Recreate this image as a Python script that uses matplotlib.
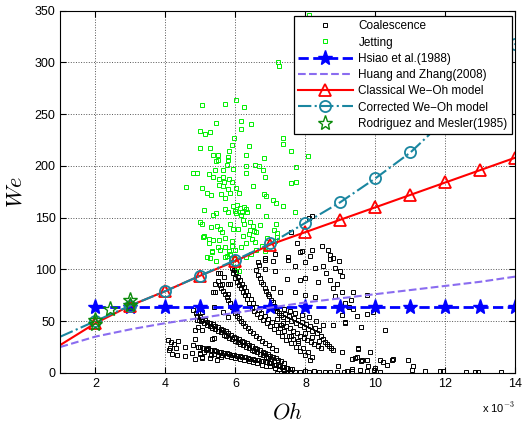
import numpy as np
import matplotlib
matplotlib.use("Agg")
import matplotlib.pyplot as plt

plt.rcParams['font.family'] = ['Liberation Sans', 'DejaVu Sans']
plt.rcParams['mathtext.fontset'] = 'cm'

# Oh values are in units of 1e-3
oh_model = [1, 2, 3, 4, 5, 6, 7, 8, 9, 10, 11, 12, 13, 14]
we_hsiao = [64, 64, 64, 64, 64, 64, 64, 64, 64, 64, 64, 64, 64, 64]
we_huang = [25, 35, 42, 48, 53, 58, 63, 68, 72, 76, 80, 84, 88, 93]
we_classic = [27, 48, 65, 79, 94, 108, 124, 136, 148, 160, 172, 184, 196, 208]
we_corrected = [35, 50, 65, 79, 94, 109, 125, 145, 165, 188, 213, 245, 280, 318]

oh_rodriguez = [2.0, 2.0, 2.42, 3.0, 3.0]
we_rodriguez = [47, 51, 62, 70, 66]

jet_pts = [
    (8.11, 346), (7.22, 300), (7.23, 297),
    (5.04, 259), (5.71, 260), (6.02, 264), (6.25, 257), (5.43, 241), (6.16, 243), (6.43, 240),
    (6.17, 236), (5.0, 234), (5.14, 231), (5.27, 233), (5.96, 227), (7.35, 227), (7.35, 221),
    (4.99, 217), (5.28, 217), (5.9, 220), (6.39, 219), (5.82, 214), (5.36, 211), (5.5, 211),
    (5.78, 209), (6.31, 211), (6.82, 208), (7.59, 214), (8.07, 210), (5.49, 206), (5.45, 205),
    (5.8, 206), (5.77, 201), (4.78, 193), (4.89, 193), (5.41, 196), (5.64, 196), (5.94, 197),
    (6.31, 200), (6.31, 193), (6.55, 201), (6.67, 200), (6.8, 196), (6.84, 189), (7.72, 199),
    (5.24, 192), (5.37, 189), (5.52, 187), (5.64, 189), (5.81, 187), (5.66, 184), (5.89, 184),
    (5.52, 182), (5.63, 181), (4.58, 180), (5.04, 179), (5.78, 178), (6.01, 179), (6.5, 181),
    (7.59, 183), (7.73, 184), (5.19, 174), (5.31, 172), (5.58, 173), (5.84, 174), (5.7, 169),
    (6.11, 174), (6.81, 173), (6.88, 171), (7.08, 167), (7.17, 164), (7.36, 161), (5.09, 157),
    (5.71, 158), (5.92, 161), (6.05, 162), (6.14, 159), (6.23, 160), (6.0, 156), (6.2, 155),
    (6.3, 158), (6.64, 161), (5.37, 153), (5.45, 154), (5.78, 155), (6.01, 154), (6.15, 153),
    (6.32, 155), (6.88, 152), (7.69, 155), (4.99, 146), (5.04, 144), (5.3, 141), (5.48, 142),
    (5.56, 139), (5.62, 136), (5.84, 144), (5.93, 139), (6.06, 139), (6.21, 148), (6.25, 144),
    (6.41, 146), (6.49, 142), (6.52, 137), (6.6, 136), (7.15, 144), (7.1, 138), (7.2, 135),
    (5.09, 132), (5.23, 129), (5.36, 128), (5.53, 128), (5.69, 130), (5.9, 127), (6.21, 132),
    (6.38, 134), (6.47, 129), (6.55, 126), (5.33, 118), (5.57, 119), (5.7, 122), (5.82, 118),
    (5.91, 123), (6.0, 119), (6.16, 122), (6.3, 125), (5.75, 113), (5.85, 115), (5.95, 111),
    (5.08, 131), (5.32, 117), (5.5, 122), (5.7, 112), (5.88, 107), (6.0, 110), (6.03, 102),
    (6.1, 98), (5.2, 112), (5.45, 108), (6.42, 138), (6.7, 143), (6.75, 123), (7.13, 127),
    (6.85, 118), (6.6, 119), (6.45, 115), (6.3, 112), (6.9, 130), (7.2, 131), (5.27, 111),
    (5.25, 125),
]

coal_pts = [
    # sparse upper / right
    (8.11, 150), (8.18, 152), (7.6, 136), (7.75, 125), (8.18, 119), (7.89, 118), (7.51, 112),
    (8.13, 113), (8.65, 119), (8.7, 114), (8.95, 108), (8.7, 110), (6.84, 111), (7.08, 108),
    (7.84, 117), (8.46, 123), (8.79, 111), (7.51, 109), (7.13, 115), (6.84, 109), (6.64, 107),
    (6.68, 104), (6.84, 100), (7.13, 98), (7.7, 103), (7.99, 107), (8.27, 101), (8.5, 103),
    (8.6, 96), (8.84, 101), (8.99, 98), (8.7, 90), (8.79, 82), (8.9, 86), (9.03, 78), (7.46, 91),
    (7.84, 90), (8.0, 92), (8.37, 88), (7.08, 82), (7.28, 78), (7.7, 78), (7.98, 75), (8.27, 73),
    (8.84, 74), (5.56, 96), (5.41, 86), (5.79, 86), (9.13, 49), (8.79, 46), (9.51, 24),
    (9.84, 20), (9.41, 14), (9.6, 11), (9.79, 7), (9.32, 4), (8.94, 7), (9.03, 94), (9.37, 78),
    (9.3, 70), (9.13, 67), (9.23, 64), (9.37, 62), (9.75, 75), (9.03, 56), (9.46, 55),
    (9.75, 57), (9.94, 59), (9.13, 48), (9.6, 44), (10.27, 41), (9.03, 20), (9.51, 23),
    (9.33, 13), (9.48, 15), (9.62, 12), (9.76, 12), (10.13, 12), (10.22, 10), (10.46, 12),
    (10.32, 8), (10.51, 13), (10.94, 12), (11.08, 7), (10.0, 5), (9.95, 3), (9.77, 2),
    (9.57, 3), (9.33, 2), (9.2, 2), (11.03, 3), (11.41, 2), (11.84, 1.5), (11.94, 2),
    (12.6, 1), (12.84, 1), (12.93, 1), (13.6, 0.5), (10.13, 1),
    # sparse left
    (4.84, 41), (4.08, 32), (4.15, 30), (4.25, 28), (4.35, 31), (4.56, 25), (4.79, 27),
    (4.94, 25), (4.99, 19), (5.04, 15), (5.22, 24), (5.32, 33), (5.4, 34), (5.27, 14),
    (5.46, 12), (5.6, 15), (5.1, 20), (4.11, 22), (4.3, 24), (5.51, 96), (5.61, 86),
    (5.41, 78), (5.8, 76), (5.66, 93), (5.39, 64), (5.65, 59), (5.8, 54), (5.03, 41),
    (4.93, 44), (4.89, 51), (4.13, 24), (4.2, 18), (4.32, 17), (4.56, 16), (4.75, 19),
    (4.85, 13), (5.0, 18), (5.05, 14), (5.15, 22), (5.3, 17), (4.84, 33), (4.79, 61),
    (4.88, 58), (4.95, 62), (5.05, 59), (5.37, 78), (5.84, 86),
    # bottom row
    (7.2, 0), (7.3, 0), (7.38, 0), (7.46, 0), (7.55, 1), (7.7, 1), (7.85, 1), (8.0, 2),
    (8.1, 1), (8.25, 2), (8.4, 1), (8.55, 1), (8.7, 1), (8.9, 1), (9.1, 1),
    # steep band
    (5.90, 101), (5.93, 96), (5.97, 99), (6.00, 92), (6.02, 97), (6.05, 88), (6.08, 93),
    (6.10, 85), (6.13, 90), (6.16, 82), (6.18, 86), (6.21, 78), (6.24, 83), (6.27, 75),
    (6.30, 79), (6.33, 71), (6.36, 75), (6.40, 67), (6.43, 71), (6.47, 63), (6.50, 67),
    (6.54, 60), (6.58, 64), (6.62, 57), (6.66, 61), (6.70, 54), (6.74, 58), (6.79, 51),
    (6.84, 55), (6.89, 48), (6.94, 52), (6.99, 45), (7.04, 49), (7.10, 42), (7.15, 46),
    (7.21, 39), (7.27, 43), (7.33, 36), (7.39, 40), (7.45, 32), (7.52, 36), (7.58, 29),
    (7.65, 33), (7.72, 25), (7.78, 29), (7.85, 21), (7.92, 24), (7.99, 17), (8.06, 20),
    (8.13, 12), (8.2, 15),
    # upper right band
    (6.60, 99), (6.65, 95), (6.70, 92), (6.74, 88), (6.79, 86), (6.83, 82), (6.88, 79),
    (6.92, 76), (6.97, 74), (7.01, 70), (7.06, 68), (7.10, 65), (7.15, 63), (7.20, 60),
    (7.25, 58), (7.30, 56), (7.36, 54), (7.42, 57), (7.48, 52), (7.54, 55), (7.60, 50),
    (7.66, 53), (7.72, 48), (7.78, 51), (7.84, 46), (7.90, 49), (7.96, 44), (8.02, 47),
    (8.08, 42), (8.14, 45), (8.20, 40), (8.26, 43), (8.32, 38), (8.38, 41), (8.44, 36),
    (8.50, 33), (8.56, 30), (8.62, 28), (8.68, 26), (8.74, 24), (8.80, 22),
    (7.35, 48), (7.45, 45), (7.55, 43), (7.65, 40), (7.75, 38), (7.85, 36), (7.95, 34),
    (8.05, 32), (8.15, 30), (8.25, 28), (8.35, 26), (8.45, 24), (7.40, 62), (7.55, 60),
    (7.7, 58), (7.9, 56), (8.1, 54), (8.3, 50), (8.5, 46), (8.0, 38), (8.2, 35), (8.4, 31),
    (7.2, 52), (7.3, 46), (7.6, 36), (7.8, 31),
    # second steep band
    (5.50, 89), (5.55, 85), (5.60, 82), (5.65, 79), (5.70, 76), (5.75, 73), (5.80, 70),
    (5.85, 67), (5.90, 64), (5.95, 61), (6.00, 58), (6.05, 55), (6.10, 53), (6.16, 50),
    (6.22, 48), (6.28, 45), (6.35, 43), (6.42, 40), (6.50, 38), (6.58, 36), (6.66, 34),
    (6.75, 31), (6.85, 29), (6.95, 27), (7.05, 24), (7.15, 22),
    # middle band
    (4.90, 55), (4.98, 54), (5.05, 52), (5.12, 51), (5.20, 49), (5.28, 48), (5.35, 47),
    (5.42, 45), (5.50, 44), (5.58, 42), (5.65, 41), (5.72, 40), (5.80, 38), (5.88, 37),
    (5.95, 35), (6.02, 34), (6.10, 33), (6.18, 31), (6.25, 30), (6.32, 29), (6.40, 27),
    (6.48, 26), (6.55, 24), (6.62, 23), (6.70, 22), (6.78, 20), (6.85, 19), (6.92, 18),
    (7.00, 16), (7.08, 15), (7.15, 14), (7.22, 12), (7.30, 11), (7.38, 9),
    (4.95, 51), (5.02, 50), (5.10, 48), (5.18, 46), (5.26, 45), (5.34, 43), (5.42, 42),
    (5.50, 40), (5.58, 39), (5.66, 37), (5.74, 36), (5.82, 34), (5.90, 33), (5.98, 31),
    (6.06, 30), (6.14, 28), (6.22, 27), (6.30, 25), (6.38, 24), (6.46, 22), (6.54, 21),
    (6.62, 20), (6.70, 18), (6.78, 17), (6.86, 15), (6.94, 14), (7.02, 13), (7.10, 11),
    # low band
    (5.00, 25), (5.08, 24), (5.15, 23), (5.22, 23), (5.30, 22), (5.38, 22), (5.45, 21),
    (5.52, 20), (5.60, 20), (5.67, 19), (5.75, 19), (5.82, 18), (5.90, 17), (5.97, 17),
    (6.05, 16), (6.12, 16), (6.20, 15), (6.27, 15), (6.35, 14), (6.42, 13), (6.50, 13),
    (6.57, 12), (6.65, 12), (6.72, 11), (6.80, 11), (6.87, 10), (6.95, 9), (7.02, 9),
    (7.10, 8), (7.17, 8), (7.25, 7), (7.32, 6), (7.40, 6), (7.47, 5), (7.55, 4), (7.62, 4),
    (5.40, 18), (5.50, 17), (5.62, 17), (5.75, 16), (5.88, 15), (6.00, 14), (6.12, 13),
    (6.25, 12), (6.38, 11), (6.50, 10), (6.62, 9), (6.75, 8), (6.88, 7), (7.00, 7),
    (7.12, 5), (7.25, 4), (7.38, 3),
]

oh_jet = [p[0] for p in jet_pts]
we_jet = [p[1] for p in jet_pts]
oh_coal = [p[0] for p in coal_pts]
we_coal = [p[1] for p in coal_pts]

fig = plt.figure(figsize=(5.26, 4.28), dpi=100)
ax = fig.add_axes([0.115, 0.129, 0.865, 0.846])

ax.plot(oh_coal, we_coal, 's', mfc='none', mec='black', ms=3, mew=0.7, label='Coalescence')
ax.plot(oh_jet, we_jet, 's', mfc='none', mec='#00ee00', ms=3, mew=0.7, label='Jetting')
ax.plot(oh_model[1:], we_hsiao[1:], '--*', color='blue', lw=2, ms=11, label='Hsiao et al.(1988)')
ax.plot(oh_model, we_huang, '--', color='#8a6cf0', lw=1.5, label='Huang and Zhang(2008)')
ax.plot(oh_model, we_classic, '-^', color='red', lw=1.5, ms=8, mfc='none', mew=1.3,
        markevery=range(1, 14), label='Classical We\u2212Oh model')
ax.plot(oh_model, we_corrected, '-.o', color='#1a86a0', lw=1.5, ms=8, mfc='none', mew=1.3,
        markevery=range(1, 14), label='Corrected We\u2212Oh model')
ax.plot(oh_rodriguez, we_rodriguez, '*', color='#0a8a0a', mfc='none', ms=11, mew=1.0,
        label='Rodriguez and Mesler(1985)')

ax.set_xlim(1, 14)
ax.set_ylim(0, 350)
ax.set_xticks([2, 4, 6, 8, 10, 12, 14])
ax.set_yticks(range(0, 351, 50))
ax.tick_params(direction='in', top=True, right=True, labelsize=9, length=4)
ax.grid(True, linestyle=':', color='#555555', lw=0.7)
for s in ax.spines.values():
    s.set_linewidth(0.8)

ax.set_xlabel('$Oh$', fontsize=16, labelpad=9)
ax.set_ylabel('$We$', fontsize=16, labelpad=6)
ax.text(1.0, -0.075, 'x 10$^{-3}$', transform=ax.transAxes, ha='right', va='top', fontsize=8)

leg = ax.legend(loc='upper right', bbox_to_anchor=(0.992, 0.985), fontsize=8.5,
                handlelength=4.6, borderpad=0.35, labelspacing=0.36, handletextpad=0.5,
                borderaxespad=0, fancybox=False, framealpha=1, edgecolor='black')
leg.get_frame().set_linewidth(0.9)

fig.savefig('out.png', dpi=100)
